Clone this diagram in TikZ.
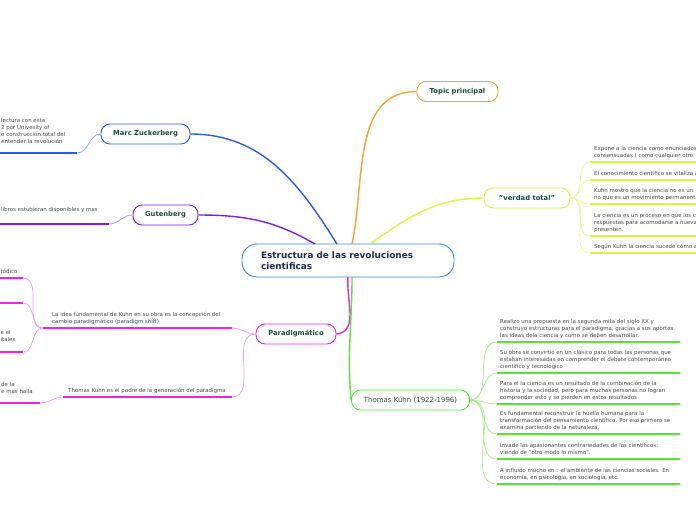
\documentclass[tikz,border=0pt]{standalone}
\usepackage{fontspec}
\setmainfont{DejaVu Sans}
\definecolor{ccenter}{HTML}{3A8FD8}
\definecolor{cblue}{HTML}{2B5BF0}
\definecolor{cbluel}{HTML}{8AA8F7}
\definecolor{cpurple}{HTML}{7B1FF0}
\definecolor{cpurplel}{HTML}{B58EF7}
\definecolor{corange}{HTML}{F7A531}
\definecolor{cyellow}{HTML}{DDF542}
\definecolor{cyellowl}{HTML}{EAF78E}
\definecolor{cmag}{HTML}{EE22EE}
\definecolor{cmagl}{HTML}{F59AF5}
\definecolor{cgreen}{HTML}{55E633}
\definecolor{cgreenl}{HTML}{A5F08C}
\definecolor{tdark}{HTML}{1B4D3E}
\definecolor{navy}{HTML}{1C2B4F}
\definecolor{tgray}{HTML}{4A4A4A}
\definecolor{tgray2}{HTML}{3D4A4A}
\begin{document}
\begin{tikzpicture}[x=1pt,y=-1pt,
  topic/.style={draw, rounded corners=9pt, fill=white, line width=0.9pt, minimum height=20pt, inner sep=0pt, font=\bfseries\fontsize{6.8}{7}\selectfont, text=tdark},
  item/.style={anchor=south west, inner sep=0pt, align=left, text depth=1.3pt, font=\fontsize{5.45}{6.9}\selectfont, text=tgray},
  ul/.style={line width=1.8pt},
  sub/.style={line width=0.7pt},
  mainc/.style={line width=1.4pt}]
\clip (0,0) rectangle (696,520);
\fill[white] (0,0) rectangle (696,520);

% ---------- main nodes ----------
\node[topic, draw=ccenter, minimum width=212pt, minimum height=33pt, rounded corners=15pt, text=navy, font=\bfseries\fontsize{8.9}{11.5}\selectfont, align=left, text width=174pt] (c) at (348,260.5) {Estructura de las revoluciones\\cientificas};
\node[topic, draw=corange, minimum width=81pt] (tp) at (457.5,91.5) {Topic principal};
\node[topic, draw=cyellow, minimum width=86pt] (vt) at (527,198) {"verdad total"};
\node[topic, draw=cblue, minimum width=89pt] (mz) at (145.5,134) {Marc Zuckerberg};
\node[topic, draw=cpurple, minimum width=65pt] (gb) at (165.5,215) {Gutenberg};
\node[topic, draw=cmag, minimum width=80pt] (pa) at (296,334) {Paradigmático};
\node[topic, draw=cgreen, minimum width=118pt, font=\fontsize{7}{7}\selectfont, text=tgray2] (tk) at (410.5,400) {Thomas Kuhn (1922-1996)};

% ---------- main connectors ----------
\coordinate (cmz) at (337,244);
\coordinate (cgb) at (315,244);
\coordinate (ctp) at (352,244);
\coordinate (cvt) at (370,244);
\coordinate (cpa) at (348,277);
\coordinate (ctk) at (352,277);
\draw[mainc, cblue] (mz.east) to[out=0,in=122] (cmz);
\draw[mainc, cpurple] (gb.east) to[out=0,in=150] (cgb);
\draw[mainc, corange] (tp.west) to[out=180,in=78] (ctp);
\draw[mainc, cyellow] (vt.west) to[out=180,in=35] (cvt);
\draw[mainc, cmag] (cpa) to[out=-95,in=5] (pa.east);
\draw[mainc, cgreen] (ctk) to[out=-90,in=95] (tk.west);

% ---------- "verdad total" items ----------
\coordinate (v1l) at (590,162); \coordinate (v1r) at (700,162);
\coordinate (v2l) at (590,180); \coordinate (v2r) at (700,180);
\coordinate (v3l) at (590,204); \coordinate (v3r) at (700,204);
\coordinate (v4l) at (590,236); \coordinate (v4r) at (700,236);
\coordinate (v5l) at (590,253); \coordinate (v5r) at (700,253);
\node[item] (v1) at (594,158.8) {Expone a la ciencia como enunciados\\consensuadas ( como cualquier otro};
\node[item] (v2) at (594,176.8) {El conocimiento científico se vitaliza a};
\node[item] (v3) at (594,200.8) {Kuhn mostro que la ciencia no es un\\no que es un movimiento permanente};
\node[item] (v4) at (594,232.8) {La ciencia es un proceso en que los c\\respuestas para acomodarse a nueva\\presenten.};
\node[item] (v5) at (594,249.8) {Según Kuhn la ciencia sucede cómo a};
\foreach \i in {1,...,5}{
  \draw[ul, cyellow] (v\i l) -- (v\i r);
  \draw[sub, cyellowl] (vt.east) to[out=0,in=180] (v\i l);
}

% ---------- Thomas Kuhn items ----------
\coordinate (k1l) at (497,342); \coordinate (k1r) at (680,342);
\coordinate (k2l) at (497,373); \coordinate (k2r) at (680,373);
\coordinate (k3l) at (497,404); \coordinate (k3r) at (680,404);
\coordinate (k4l) at (497,434); \coordinate (k4r) at (680,434);
\coordinate (k5l) at (497,459); \coordinate (k5r) at (680,459);
\coordinate (k6l) at (497,484); \coordinate (k6r) at (680,484);
\node[item] (k1) at (500,338.8) {Realizo una propuesta en la segunda mita del siglo XX y\\construyo estructuras para el paradigma, gracias a sus aportes\\las ideas dela ciencia y como se deben desarrollar.};
\node[item] (k2) at (500,369.8) {Su obra se convirtió en un clásico para todas las personas que\\estaban interesadas en comprender el debate contemporáneo\\científico y tecnológico};
\node[item] (k3) at (500,400.8) {Para el la ciencia es un resultado de la combinación de la\\historia y la sociedad, pero para muchas personas no logran\\comprender esto y se pierden en estos resultados};
\node[item] (k4) at (500,430.8) {Es fundamental reconstruir la huella humana para la\\transformación del pensamiento científico. Por eso primero se\\examina partiendo de la naturaleza.};
\node[item] (k5) at (500,455.8) {Invade las apasionantes contrariedades de los científicos;\\viendo de "otro modo lo mismo".};
\node[item] (k6) at (500,480.8) {A influido mucho en : el ambiente de las ciencias sociales. En\\economía, en psicología, en sociología, etc.};
\foreach \i in {1,...,6}{
  \draw[ul, cgreen] (k\i l) -- (k\i r);
  \draw[sub, cgreenl] (tk.east) to[out=0,in=180] (k\i l);
}

% ---------- Marc Zuckerberg item ----------
\coordinate (m1l) at (-5,153); \coordinate (m1r) at (77,153);
\node[item] (m1) at (1,144.8) {lectura con esta\\2 por Univesity of\\e construcción total del\\ entender la revolución};
\draw[ul, cblue] (m1l) -- (m1r);
\draw[sub, cbluel] (m1r) to[out=0,in=180] (mz.west);

% ---------- Gutenberg item ----------
\coordinate (g1l) at (-5,224); \coordinate (g1r) at (109,224);
\node[item] (g1) at (1,212.8) {libros estubieran disponibles y mas};
\draw[ul, cpurple] (g1l) -- (g1r);
\draw[sub, cpurplel] (g1r) to[out=0,in=180] (gb.west);

% ---------- Paradigmatico items ----------
\coordinate (p1l) at (43,328); \coordinate (p1r) at (232,328);
\coordinate (p2l) at (63,397); \coordinate (p2r) at (232,397);
\node[item] (p1) at (52,324.8) {La idea fundamental de Kuhn en su obra es la concepción del\\cambio paradigmático (paradigm shift)};
\node[item] (p2) at (68,393.8) {Thomas Kuhn es el padre de la generación del paradigma};
\draw[ul, cmag] (p1l) -- (p1r);
\draw[ul, cmag] (p2l) -- (p2r);
\draw[sub, cmagl] (pa.west) to[out=180,in=0] (p1r);
\draw[sub, cmagl] (pa.west) to[out=180,in=0] (p2r);

\coordinate (a1l) at (-5,278); \coordinate (a1r) at (23,278);
\coordinate (a2l) at (-5,303); \coordinate (a2r) at (23,303);
\coordinate (a3l) at (-5,352); \coordinate (a3r) at (23,352);
\coordinate (b1l) at (-5,403); \coordinate (b1r) at (40,403);
\node[item] (a1) at (0.5,274.8) {tódico};
\node[item] (a3) at (0.5,343.3) {e el\\itales};
\node[item] (b1) at (1,395.3) {de la\\e mas halla};
\foreach \n in {a1,a2,a3}{
  \draw[ul, cmag] (\n l) -- (\n r);
  \draw[sub, cmagl] (p1l) to[out=180,in=0] (\n r);
}
\draw[ul, cmag] (b1l) -- (b1r);
\draw[sub, cmagl] (p2l) to[out=180,in=0] (b1r);
\end{tikzpicture}
\end{document}
